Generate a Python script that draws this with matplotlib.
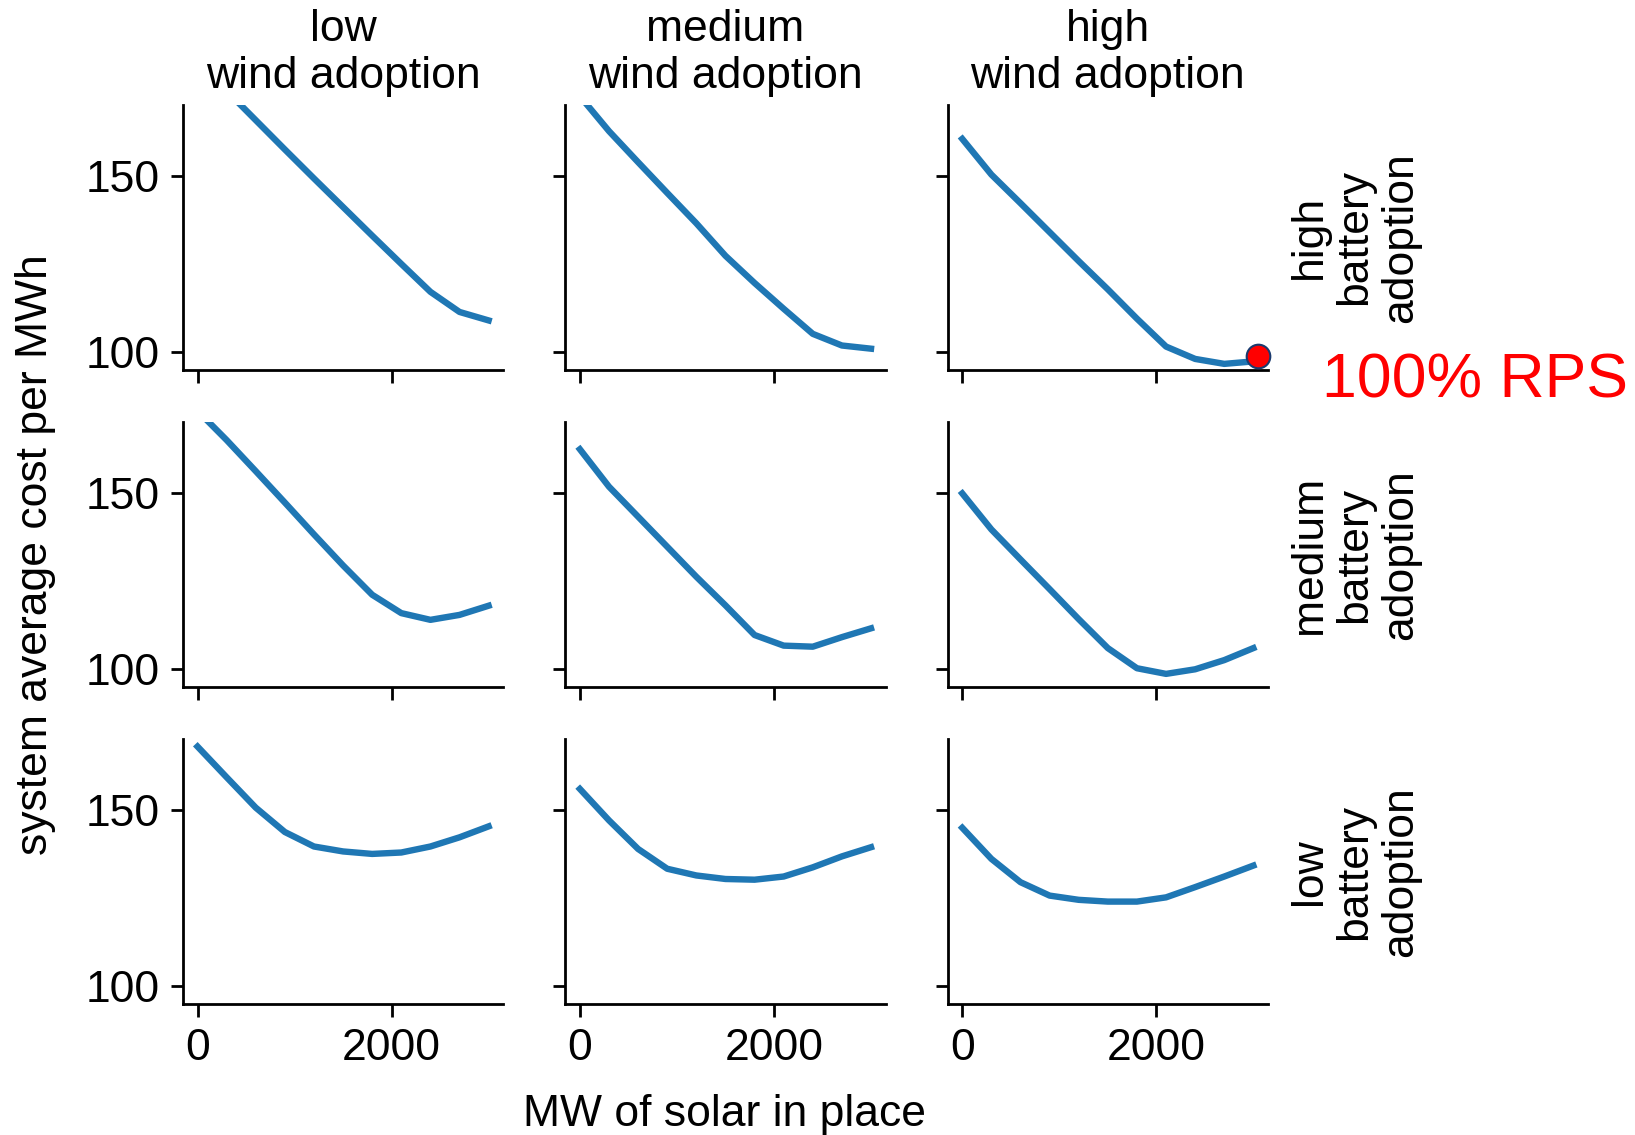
import matplotlib
matplotlib.use('Agg')
import matplotlib.pyplot as plt
import numpy as np

plt.rcParams['font.family'] = ['Liberation Sans', 'DejaVu Sans']

# MW of solar in place
solar = [0, 300, 600, 900, 1200, 1500, 1800, 2100, 2400, 2700, 3000]

wind_levels = ['low', 'medium', 'high']
battery_levels = ['high', 'medium', 'low']   # rows, top to bottom

# system average cost per MWh, rows = battery (high, medium, low), cols = wind (low, medium, high)
cost_hb_lw = [182.6, 174.0, 165.7, 157.4, 149.2, 141.1, 133.0, 125.0, 117.1, 111.4, 109.0]
cost_hb_mw = [172.5, 162.6, 153.8, 145.1, 136.5, 127.3, 119.6, 112.3, 105.2, 101.9, 101.0]
cost_hb_hw = [160.4, 150.3, 142.2, 134.0, 125.8, 117.8, 109.5, 101.6, 98.1, 96.7, 97.4]

cost_mb_lw = [173.2, 164.9, 156.1, 147.2, 138.2, 129.4, 121.1, 115.9, 114.0, 115.4, 118.0]
cost_mb_mw = [162.3, 151.7, 143.2, 134.7, 126.2, 118.1, 109.7, 106.7, 106.4, 109.1, 111.6]
cost_mb_hw = [149.8, 139.6, 131.1, 122.7, 114.2, 106.0, 100.3, 98.7, 100.0, 102.6, 106.0]

cost_lb_lw = [167.9, 159.2, 150.6, 143.7, 139.6, 138.2, 137.5, 137.9, 139.6, 142.2, 145.3]
cost_lb_mw = [155.9, 147.0, 138.9, 133.3, 131.4, 130.4, 130.2, 131.1, 133.7, 136.8, 139.4]
cost_lb_hw = [144.9, 136.1, 129.5, 125.7, 124.5, 124.0, 124.0, 125.2, 128.1, 131.1, 134.2]

grid = [[cost_hb_lw, cost_hb_mw, cost_hb_hw],
        [cost_mb_lw, cost_mb_mw, cost_mb_hw],
        [cost_lb_lw, cost_lb_mw, cost_lb_hw]]

# the 100% RPS point
rps_x = 3050
rps_y = 98.8

fig, axes = plt.subplots(3, 3, figsize=(16.35, 11.35), dpi=100,
                         sharex=True, sharey=True)
fig.subplots_adjust(left=0.1119, right=0.7755, top=0.9075, bottom=0.1154,
                    wspace=0.194, hspace=0.197)

fs = 32
for i in range(3):
    for j in range(3):
        ax = axes[i, j]
        ax.plot(solar, grid[i][j], color='#1f77b4', lw=4.6)
        ax.spines['top'].set_visible(False)
        ax.spines['right'].set_visible(False)
        for s in ['left', 'bottom']:
            ax.spines[s].set_linewidth(2.0)
        ax.tick_params(length=9, width=2.0, labelsize=fs, pad=8)
        ax.set_ylim(95, 170)
        ax.set_xlim(-150, 3150)
        ax.set_xticks([0, 2000])
        ax.set_yticks([100, 150])
        if i == 0:
            ax.set_title(wind_levels[j] + '\nwind adoption', fontsize=fs,
                         pad=12, linespacing=1.2)
        if j == 2:
            ax.text(1.065, 0.5, battery_levels[i] + '\nbattery\nadoption',
                    transform=ax.transAxes, rotation=90, fontsize=fs,
                    ha='left', va='center', multialignment='center',
                    linespacing=1.15)

axes[0, 2].plot([rps_x], [rps_y], 'o', ms=17, mfc='red', mec='#1a3a6e',
                mew=1.5, clip_on=False, zorder=5)
fig.text(0.902, 0.664, '100% RPS', color='red', fontsize=45,
         ha='center', va='center')

fig.text(0.022, 0.511, 'system average cost per MWh', rotation=90,
         fontsize=fs, ha='center', va='center')
fig.text(0.443, 0.018, 'MW of solar in place', fontsize=fs,
         ha='center', va='center')

plt.savefig('out.png', dpi=100)
